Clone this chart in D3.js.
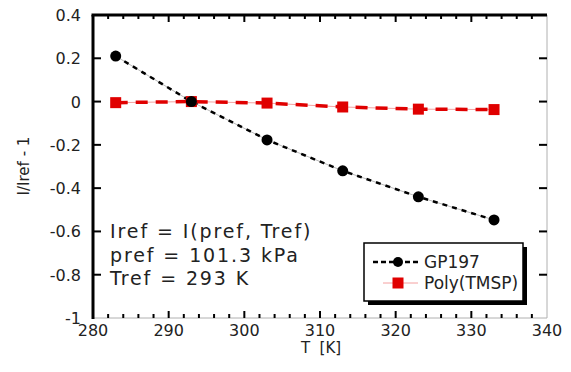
<!DOCTYPE html>
<html><head><meta charset="utf-8">
<script src="https://cdn.jsdelivr.net/npm/d3@7"></script>
<style>body{margin:0;background:#fff}svg{display:block}text{font-family:"DejaVu Sans",sans-serif;fill:#222}</style>
</head><body><svg id="c" width="571" height="372"></svg>
<script>
const temps = [283, 293, 303, 313, 323, 333];
const gp197 = [0.21, 0.0, -0.177, -0.32, -0.44, -0.547];
const polyTMSP = [-0.005, 0.0, -0.007, -0.025, -0.035, -0.037];
const xTicks = [280, 290, 300, 310, 320, 330, 340];
const yTicks = [0.4, 0.2, 0, -0.2, -0.4, -0.6, -0.8, -1];
const yTickLabels = ["0.4", "0.2", "0", "-0.2", "-0.4", "-0.6", "-0.8", "-1"];
const annotation = ["Iref = I(pref, Tref)", "pref = 101.3 kPa", "Tref = 293 K"];
const seriesNames = ["GP197", "Poly(TMSP)"];

const svg = d3.select("#c");
const L = 93, R = 547, T = 15, B = 318;
const x = d3.scaleLinear().domain([280, 340]).range([L, R]);
const y = d3.scaleLinear().domain([-1, 0.4]).range([B, T]);

// frame
svg.append("line").attr("x1", L).attr("x2", R).attr("y1", B).attr("y2", B).attr("stroke", "#b0b0b0").attr("stroke-width", 1);
svg.append("line").attr("x1", R).attr("x2", R).attr("y1", T).attr("y2", B).attr("stroke", "#b0b0b0").attr("stroke-width", 1);

// x ticks (minor every 2, major every 10), bottom and top, inward
const minorX = d3.range(282, 340, 2);
minorX.forEach(v => {
  const major = v % 10 === 0;
  const len = major ? 7 : 4;
  svg.append("line").attr("x1", x(v)).attr("x2", x(v)).attr("y1", B).attr("y2", B - len).attr("stroke", "#000").attr("stroke-width", 2);
  svg.append("line").attr("x1", x(v)).attr("x2", x(v)).attr("y1", T).attr("y2", T + len).attr("stroke", "#000").attr("stroke-width", 2);
});
// y ticks left and right, inward
yTicks.slice(1, -1).forEach(v => {
  svg.append("line").attr("x1", L).attr("x2", L + 8).attr("y1", y(v)).attr("y2", y(v)).attr("stroke", "#000").attr("stroke-width", 2);
  svg.append("line").attr("x1", R).attr("x2", R - 8).attr("y1", y(v)).attr("y2", y(v)).attr("stroke", "#000").attr("stroke-width", 2);
});

svg.append("line").attr("x1", L - 1.5).attr("x2", R).attr("y1", T).attr("y2", T).attr("stroke", "#000").attr("stroke-width", 3);
svg.append("line").attr("x1", L).attr("x2", L).attr("y1", T).attr("y2", B + 1).attr("stroke", "#000").attr("stroke-width", 3);

// tick labels
svg.selectAll(".xl").data(xTicks).enter().append("text")
  .attr("x", d => x(d)).attr("y", 336).attr("text-anchor", "middle").attr("font-size", 16).text(d => d);
svg.selectAll(".yl").data(yTicks).enter().append("text")
  .attr("x", 81).attr("y", d => y(d) + 6).attr("text-anchor", "end").attr("font-size", 16).text((d, i) => yTickLabels[i]);

svg.append("text").attr("x", (L + R) / 2 + 1).attr("y", 353).attr("text-anchor", "middle").attr("font-size", 15)
  .style("white-space", "pre").text("T  [K]");
svg.append("text").attr("transform", "translate(29,166) rotate(-90)").attr("text-anchor", "middle").attr("font-size", 15).text("I/Iref - 1");

// series
const pts = (vals) => temps.map((t, i) => [x(t), y(vals[i])]);
const line = d3.line();
// Poly(TMSP)
svg.append("path").attr("d", line(pts(polyTMSP))).attr("fill", "none").attr("stroke", "#f4a0a0").attr("stroke-width", 1);
svg.append("path").attr("d", line(pts(polyTMSP))).attr("fill", "none").attr("stroke", "#e00000").attr("stroke-width", 3.5).attr("stroke-dasharray", "12,8");
// GP197
svg.append("path").attr("d", line(pts(gp197))).attr("fill", "none").attr("stroke", "#bbb").attr("stroke-width", 1);
svg.append("path").attr("d", line(pts(gp197))).attr("fill", "none").attr("stroke", "#000").attr("stroke-width", 2.5).attr("stroke-dasharray", "5,5");

svg.selectAll(".sq").data(pts(polyTMSP)).enter().append("rect")
  .attr("x", d => d[0] - 5.5).attr("y", d => d[1] - 5.5).attr("width", 11).attr("height", 11).attr("fill", "#e00000");
svg.selectAll(".ci").data(pts(gp197)).enter().append("circle")
  .attr("cx", d => d[0]).attr("cy", d => d[1]).attr("r", 5.5).attr("fill", "#000");

// annotation
annotation.forEach((s, i) => {
  svg.append("text").attr("x", 110).attr("y", 238 + i * 23.5).attr("font-size", 19)
    .attr("letter-spacing", 1.9).style("white-space", "pre").text(s);
});

// legend
const lx = 364, ly = 243, lw = 159, lh = 58;
svg.append("rect").attr("x", lx + 4).attr("y", ly + 4).attr("width", lw).attr("height", lh).attr("fill", "#000");
svg.append("rect").attr("x", lx).attr("y", ly).attr("width", lw).attr("height", lh).attr("fill", "#fff").attr("stroke", "#000").attr("stroke-width", 1.5);
svg.append("line").attr("x1", 373).attr("x2", 421).attr("y1", 262).attr("y2", 262).attr("stroke", "#000").attr("stroke-width", 2.5).attr("stroke-dasharray", "5,3");
svg.append("circle").attr("cx", 398).attr("cy", 262).attr("r", 5).attr("fill", "#000");
svg.append("line").attr("x1", 383).attr("x2", 418).attr("y1", 283).attr("y2", 283).attr("stroke", "#f4a0a0").attr("stroke-width", 1);
svg.append("rect").attr("x", 392.5).attr("y", 277.5).attr("width", 11).attr("height", 11).attr("fill", "#e00000");
seriesNames.forEach((s, i) => {
  svg.append("text").attr("x", 424).attr("y", 268 + i * 21).attr("font-size", 17).text(s);
});
</script></body></html>
